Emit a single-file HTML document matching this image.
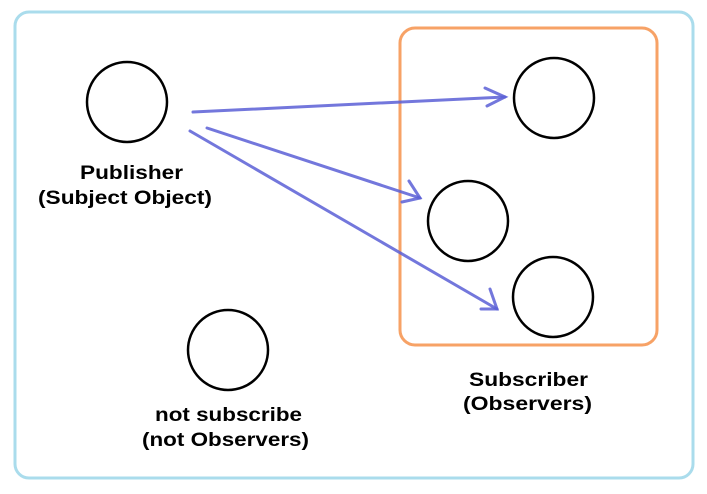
<!DOCTYPE html>
<html><head><meta charset="utf-8"><style>
html,body{margin:0;padding:0;background:#fff;width:707px;height:494px;overflow:hidden}
text{font-family:"Liberation Sans",sans-serif;font-weight:bold;font-size:19px;fill:#000}
</style></head><body>
<svg width="707" height="494" viewBox="0 0 707 494" xmlns="http://www.w3.org/2000/svg">
<rect x="15" y="12" width="678" height="466" rx="14" fill="none" stroke="#aadcec" stroke-width="3"/>
<rect x="400" y="28" width="257" height="317" rx="15" fill="none" stroke="#f7a266" stroke-width="3"/>
<g fill="none" stroke="#000" stroke-width="2.5">
<ellipse cx="127" cy="102" rx="40" ry="40"/>
<ellipse cx="554" cy="98" rx="40" ry="40"/>
<ellipse cx="468" cy="221" rx="40" ry="40"/>
<ellipse cx="553" cy="297" rx="40" ry="40"/>
<ellipse cx="228" cy="350" rx="40" ry="40"/>
</g>
<g fill="none" stroke="#5b5fd6" stroke-width="3" stroke-opacity="0.85" stroke-linecap="round">
<path d="M193 112 L505 97"/>
<path d="M485 88 L505 97 L487 106"/>
<path d="M207 128 L420 198"/>
<path d="M409 181 L420 198 L402 202"/>
<path d="M190 131 L497 309"/>
<path d="M490 289 L497 309 L481 309"/>
</g>
<text x="80" y="179" textLength="103" lengthAdjust="spacingAndGlyphs">Publisher</text>
<text x="38" y="204" textLength="174" lengthAdjust="spacingAndGlyphs">(Subject Object)</text>
<text x="469" y="386" textLength="119" lengthAdjust="spacingAndGlyphs">Subscriber</text>
<text x="463" y="410" textLength="129" lengthAdjust="spacingAndGlyphs">(Observers)</text>
<text x="155" y="421" textLength="147" lengthAdjust="spacingAndGlyphs">not subscribe</text>
<text x="142" y="446" textLength="167" lengthAdjust="spacingAndGlyphs">(not Observers)</text>
</svg>
</body></html>
